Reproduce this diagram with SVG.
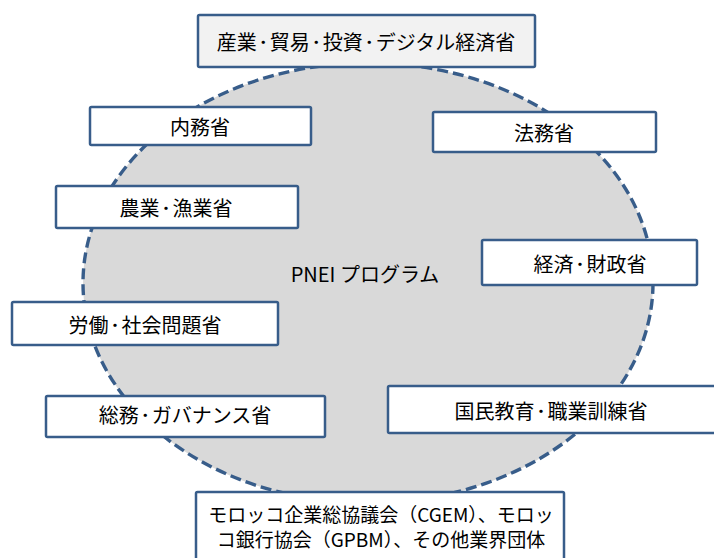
<svg xmlns="http://www.w3.org/2000/svg" width="714" height="558" viewBox="0 0 714 558">
<style>
.box{fill:#ffffff;stroke:#385d8a;stroke-width:2.5}
.t{font-family:"Noto Sans CJK JP","Noto Sans",sans-serif;font-size:20px;fill:#000;text-anchor:middle;dominant-baseline:central}
.s{font-size:19px}
.d{font-size:13px;font-weight:bold}
</style>
<rect width="714" height="558" fill="#ffffff"/>
<g id="pnei">
<ellipse cx="368" cy="283" rx="285" ry="220" fill="#d9d9d9" stroke="#385d8a" stroke-width="3.4" stroke-dasharray="11 5"/>
<text class="t" x="365" y="273">PNEI プログラム</text>
</g>
<g id="connectors"></g>
<g id="n-industry"><rect class="box" x="198" y="15" width="337" height="52" rx="1.5" style="fill:#f2f2f2"/><text class="t" x="366" y="41">産業<tspan class="d">・</tspan><tspan>貿易</tspan><tspan class="d">・</tspan><tspan>投資</tspan><tspan class="d">・</tspan><tspan>デジタル経済省</tspan></text></g>
<g id="n-interior"><rect class="box" x="90" y="107" width="221" height="38" rx="1.5"/><text class="t" x="200" y="126">内務省</text></g>
<g id="n-justice"><rect class="box" x="433" y="112" width="223" height="40" rx="1.5"/><text class="t" x="544" y="132">法務省</text></g>
<g id="n-agri"><rect class="box" x="56" y="186" width="242" height="42" rx="1.5"/><text class="t" x="176" y="207">農業<tspan class="d">・</tspan><tspan>漁業省</tspan></text></g>
<g id="n-finance"><rect class="box" x="482" y="240" width="215" height="45" rx="1.5"/><text class="t" x="590" y="263">経済<tspan class="d">・</tspan><tspan>財政省</tspan></text></g>
<g id="n-labour"><rect class="box" x="12" y="302" width="266" height="43" rx="1.5"/><text class="t" x="145" y="324">労働<tspan class="d">・</tspan><tspan>社会問題省</tspan></text></g>
<g id="n-governance"><rect class="box" x="46" y="396" width="279" height="41" rx="1.5"/><text class="t" x="185" y="414">総務<tspan class="d">・</tspan><tspan>ガバナンス省</tspan></text></g>
<g id="n-education"><rect class="box" x="388" y="386" width="340" height="47" rx="1.5"/><text class="t" x="551" y="410">国民教育<tspan class="d">・</tspan><tspan>職業訓練省</tspan></text></g>
<g id="n-business"><rect class="box" x="196" y="492" width="368" height="80" rx="1.5"/><text class="t s" x="381" y="513">モロッコ企業総協議会（CGEM）、モロッ</text><text class="t s" x="381" y="538">コ銀行協会（GPBM）、その他業界団体</text></g>
</svg>
